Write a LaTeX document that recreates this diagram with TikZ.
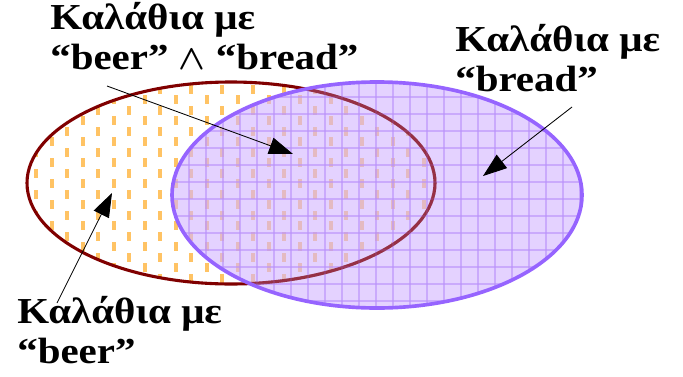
\documentclass[tikz,border=0pt]{standalone}
\usepackage{amsmath}
\usepackage{fontspec}
\setmainfont{Liberation Serif}[FakeStretch=1.12]
\usepackage{tikz}
\usetikzlibrary{arrows.meta, positioning}
\definecolor{BeerRed}{RGB}{128, 0, 0}
\definecolor{BeerDash}{RGB}{255, 195, 100}
\definecolor{BreadLine}{RGB}{150, 100, 255}
\definecolor{BreadFill}{RGB}{210, 180, 255}
\definecolor{BreadGrid}{RGB}{185, 145, 250}

\begin{document}
\begin{tikzpicture}[
    x=0.025cm, y=-0.025cm,
    every node/.style={font=\bfseries\fontsize{26}{28.5}\selectfont, align=left, inner sep=0pt, anchor=north west},
    pointer/.style={-{Triangle[length=17pt, width=12pt]}, draw=black, line width=0.6pt},
    beerset/.style={draw=BeerRed, line width=2.2pt},
    breadset/.style={draw=BreadLine, line width=2.6pt}
  ]
    \useasboundingbox (0,0) rectangle (683,376);

    % Beer basket: white with orange dashes
    \begin{scope}
      \clip (231,183) ellipse [x radius=204, y radius=101];
      \foreach \c in {0,...,27} {
        \foreach \r in {0,...,11} {
          \pgfmathsetmacro{\dx}{36.2+15.5*\c}
          \pgfmathsetmacro{\dy}{68+21*\r+10.5*mod(\c,2)}
          \fill[BeerDash] (\dx-1.8,\dy-4.5) rectangle (\dx+1.8,\dy+4.5);
        }
      }
    \end{scope}
    \draw[beerset] (231,183) ellipse [x radius=204, y radius=101];

    % Bread basket: lavender grid
    \begin{scope}
      \clip (377,195) ellipse [x radius=205, y radius=113];
      \fill[BreadFill, opacity=0.6] (160,70) rectangle (600,320);
      \foreach \gx in {172,189,...,600}
        \draw[BreadGrid, line width=1pt, opacity=0.6] (\gx,70) -- (\gx,320);
      \foreach \gy in {80,97,...,320}
        \draw[BreadGrid, line width=1pt, opacity=0.6] (160,\gy) -- (600,\gy);
      \draw[beerset, opacity=0.55] (231,183) ellipse [x radius=204, y radius=101];
    \end{scope}
    \draw[breadset] (377,195) ellipse [x radius=205, y radius=113];

    % Labels
    \node (both) at (50,2) {Καλάθια με\\“beer” $\boldsymbol{\wedge}$ “bread”};
    \node (bread) at (455,24) {Καλάθια με\\“bread”};
    \node (beer) at (17,296) {Καλάθια με\\“beer”};

    % Arrow ends
    \coordinate (bothtail) at (107,86);
    \coordinate (bothtip) at (293,154);
    \coordinate (breadtail) at (572,107);
    \coordinate (breadtip) at (483,176);
    \coordinate (beertail) at (57,303);
    \coordinate (beertip) at (112,193);

    % Connections
    \draw[pointer] (bothtail) -- (bothtip);
    \draw[pointer] (breadtail) -- (breadtip);
    \draw[pointer] (beertail) -- (beertip);
  \end{tikzpicture}
\end{document}
